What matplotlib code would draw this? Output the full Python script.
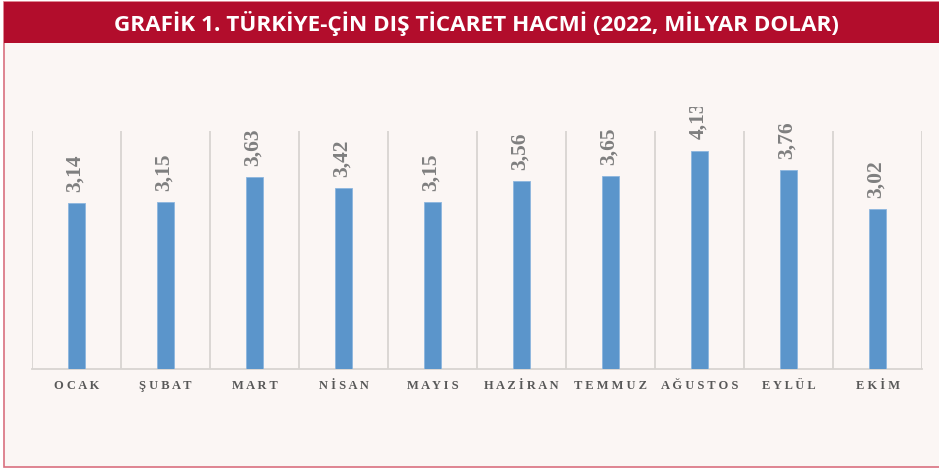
import matplotlib
matplotlib.use("Agg")
import matplotlib.pyplot as plt
from matplotlib.patches import Rectangle
from matplotlib.transforms import Bbox, TransformedBbox
import numpy as np

# data
months = ["OCAK", "ŞUBAT", "MART", "NİSAN", "MAYIS",
          "HAZİRAN", "TEMMUZ", "AĞUSTOS", "EYLÜL", "EKİM"]
volume = [3.14, 3.15, 3.63, 3.42, 3.15, 3.56, 3.65, 4.13, 3.76, 3.02]
title = "GRAFİK 1. TÜRKİYE-ÇİN DIŞ TİCARET HACMİ (2022, MİLYAR DOLAR)"

W, H = 939, 469
fig = plt.figure(figsize=(W / 100, H / 100), dpi=100, facecolor="white")

def fx(px):
    return px / W

def fy(py):
    return 1 - py / H

# panel + header banner (behind the axes)
fig.patches.append(Rectangle((fx(4), fy(467)), fx(940) - fx(4), fy(2) - fy(467),
                             transform=fig.transFigure, facecolor="#fbf6f4",
                             edgecolor="#d9707f", lw=1.2, zorder=-2))
fig.patches.append(Rectangle((fx(4), fy(43)), 1, fy(2) - fy(43),
                             transform=fig.transFigure, facecolor="#b20d2c",
                             edgecolor="none", zorder=-1))
fig.text(fx(476), fy(23), title, color="white", fontsize=16.2, fontweight="bold",
         family=["Open Sans", "DejaVu Sans"], ha="center", va="center")

ax = fig.add_axes([fx(32), fy(369), fx(922) - fx(32), fy(131) - fy(369)])
ax.set_facecolor("none")

x = np.arange(len(months))
ax.bar(x, volume, width=0.19, color="#5b95cb", edgecolor="#8db6de", lw=0.6, zorder=3)

ax.set_xlim(-0.5, len(months) - 0.5)
ax.set_ylim(0, 4.5)
ax.set_yticks([])

spaced = [" ".join(m) for m in months]
ax.set_xticks(x)
ax.set_xticklabels(spaced, family=["Liberation Serif", "DejaVu Serif"],
                   fontweight="bold", fontsize=9, color="#585858")
ax.tick_params(axis="x", length=0, pad=8)
ax.set_xticks(np.arange(-0.5, len(months)), minor=True)
ax.tick_params(axis="x", which="minor", length=0)
ax.grid(True, which="minor", axis="x", color="#d8d4d1", lw=1.3)

for s in ["top", "left", "right"]:
    ax.spines[s].set_visible(False)
ax.spines["bottom"].set_color("#d8d4d1")
ax.spines["bottom"].set_linewidth(1.3)

# value labels, cut off at the same height as in the source graphic
clip = TransformedBbox(Bbox([[0, 0], [1, fy(107)]]), fig.transFigure)
for xi, v in zip(x, volume):
    t = ax.annotate(f"{v:.2f}".replace(".", ","), (xi, v), xytext=(-1, 8),
                    textcoords="offset points", rotation=90, ha="center", va="bottom",
                    family=["Liberation Serif", "DejaVu Serif"], fontweight="bold",
                    fontsize=15.5, color="#7f7f7f", annotation_clip=False)
    t.set_clip_on(True)
    t.set_clip_path(None)
    t.set_clip_box(clip)

fig.savefig("out.png", dpi=100, facecolor=fig.get_facecolor())
